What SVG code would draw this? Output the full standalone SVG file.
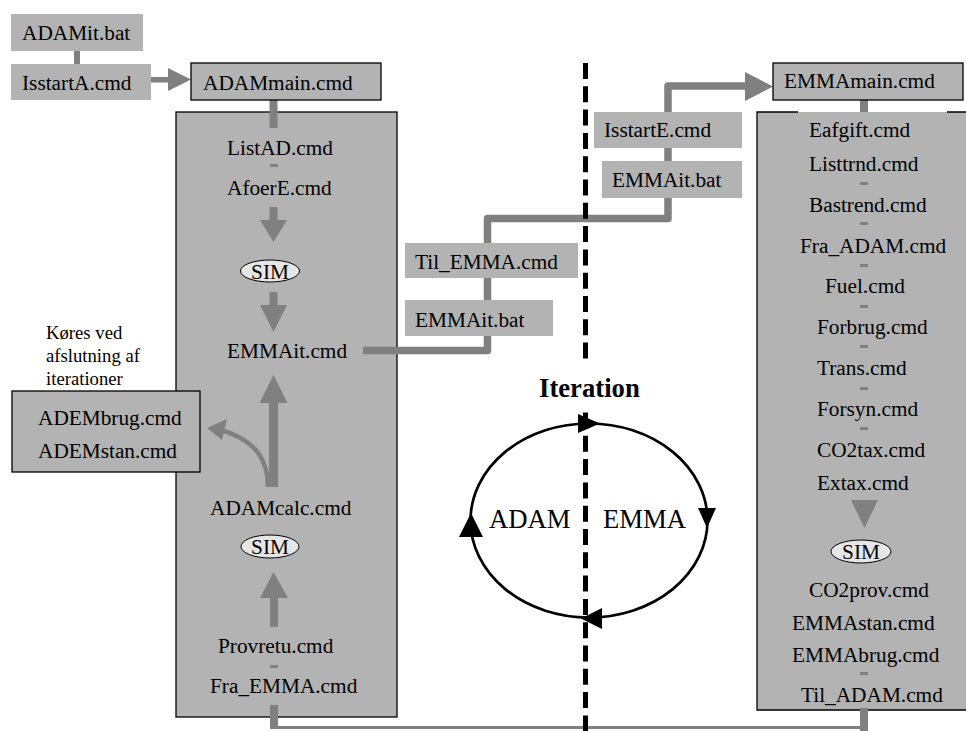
<svg xmlns="http://www.w3.org/2000/svg" width="966" height="731" viewBox="0 0 966 731">
<style>
.t{font-family:"Liberation Serif","Times New Roman","DejaVu Serif",serif;font-weight:normal;font-size:21.3px;fill:#000}
.s{font-size:18.7px}
.b{font-size:26.7px}
.bold{font-weight:bold}
.lbl{fill:#b3b3b3}
.box{fill:#b3b3b3;stroke:#000;stroke-width:1.3}
.sim{fill:#e6e6e6;stroke:#000;stroke-width:1}
.g{fill:#808080}
.pipe{fill:none;stroke:#808080;stroke-width:7.5;stroke-linejoin:round}
.blk{fill:#000}
</style>

<!-- big containers -->
<g id="adam-panel">
  <rect x="176" y="112" width="221" height="605" class="box"/>
</g>
<g id="emma-panel">
  <rect x="757" y="112" width="215" height="598" fill="#b3b3b3"/>
  <path d="M798 112 H757 V710 H972 M947 112 H972" fill="none" stroke="#000" stroke-width="1.3"/>
</g>

<!-- connectors -->
<g id="connectors">
  <rect x="74" y="51" width="6" height="13" class="g"/>
  <rect x="151" y="77" width="18" height="5.5" class="g"/>
  <polygon points="168,68 168,91 191,79.5" class="g"/>
  <rect x="269.5" y="100" width="8" height="28" class="g"/>
  <rect x="270" y="164" width="8" height="3" class="g"/>
  <rect x="269.5" y="207" width="8" height="14" class="g"/>
  <polygon points="260,220 287,220 273.5,242" class="g"/>
  <rect x="269.5" y="292" width="8" height="14" class="g"/>
  <polygon points="260,305 287,305 273.5,332" class="g"/>
  <polygon points="273.5,375 259.5,403 287.5,403" class="g"/>
  <rect x="269" y="402" width="9" height="85" class="g"/>
  <path d="M268 487 C268 462 258 441 221 430" fill="none" stroke="#808080" stroke-width="4.5"/>
  <polygon points="207,428 227,419 222,440" class="g"/>
  <polygon points="273.5,572 260,598 288,598" class="g"/>
  <rect x="270" y="597" width="8" height="30" class="g"/>
  <rect x="270" y="665" width="8" height="3" class="g"/>
  <rect x="270" y="705" width="8" height="24" class="g"/>
  <rect x="274" y="726" width="590" height="3" class="g"/>
  <rect x="860" y="708" width="8" height="23" class="g"/>
  <path d="M363 350.5 H487.5 V218.5 H668 V86 H747" class="pipe"/>
  <polygon points="745,72 745,101 773,86.5" class="g"/>
  <rect x="860" y="100" width="8" height="12" class="g"/>
  <rect x="860" y="182" width="8" height="3" class="g"/>
  <rect x="860" y="222" width="8" height="3" class="g"/>
  <rect x="860" y="264" width="8" height="3" class="g"/>
  <rect x="860" y="305" width="8" height="3" class="g"/>
  <rect x="860" y="345" width="8" height="3" class="g"/>
  <rect x="860" y="387" width="8" height="3" class="g"/>
  <rect x="860" y="427" width="8" height="3" class="g"/>
  <polygon points="851,500 878,500 864.5,528" class="g"/>
  <rect x="860" y="672" width="8" height="3" class="g"/>
</g>

<!-- ADAM side nodes -->
<g id="ADAMit-bat"><rect x="11" y="14" width="132" height="37" class="lbl"/><text x="22" y="40" class="t">ADAMit.bat</text></g>
<g id="IsstartA"><rect x="11" y="64" width="140" height="36" class="lbl"/><text x="22" y="90" class="t">IsstartA.cmd</text></g>
<g id="ADAMmain"><rect x="191" y="63" width="190" height="37" class="box"/><text x="203" y="90" class="t">ADAMmain.cmd</text></g>
<g id="ListAD"><text x="227" y="155" class="t">ListAD.cmd</text></g>
<g id="AfoerE"><text x="227" y="195" class="t">AfoerE.cmd</text></g>
<g id="SIM-A1"><ellipse cx="270" cy="271" rx="29.5" ry="11" class="sim"/><text x="270" y="278.5" class="t" text-anchor="middle">SIM</text></g>
<g id="EMMAit-cmd"><text x="227" y="358" class="t">EMMAit.cmd</text></g>
<g id="ADEM"><rect x="12" y="391" width="188" height="81" class="box"/><text x="38" y="425" class="t">ADEMbrug.cmd</text><text x="38" y="458" class="t">ADEMstan.cmd</text></g>
<g id="note"><text class="t s"><tspan x="46" y="339">Køres ved</tspan><tspan x="46" y="362">afslutning af</tspan><tspan x="46" y="385">iterationer</tspan></text></g>
<g id="ADAMcalc"><text x="210" y="515" class="t">ADAMcalc.cmd</text></g>
<g id="SIM-A2"><ellipse cx="270" cy="546.5" rx="29" ry="11.5" class="sim"/><text x="270" y="554" class="t" text-anchor="middle">SIM</text></g>
<g id="Provretu"><text x="218" y="653" class="t">Provretu.cmd</text></g>
<g id="Fra-EMMA"><text x="210" y="693" class="t">Fra_EMMA.cmd</text></g>

<!-- transfer nodes -->
<g id="Til-EMMA"><rect x="405" y="243" width="173" height="35" class="lbl"/><text x="415" y="269" class="t">Til_EMMA.cmd</text></g>
<g id="EMMAit-bat-1"><rect x="405" y="300" width="148" height="36" class="lbl"/><text x="415" y="327" class="t">EMMAit.bat</text></g>
<g id="IsstartE"><rect x="594" y="112" width="148" height="36" class="lbl"/><text x="604" y="137" class="t">IsstartE.cmd</text></g>
<g id="EMMAit-bat-2"><rect x="602" y="161" width="140" height="37" class="lbl"/><text x="612" y="187" class="t">EMMAit.bat</text></g>

<!-- EMMA side nodes -->
<g id="EMMAmain"><rect x="773" y="63" width="190" height="37" class="box"/><text x="784" y="88" class="t">EMMAmain.cmd</text></g>
<g id="Eafgift"><text x="809" y="137" class="t">Eafgift.cmd</text></g>
<g id="Listtrnd"><text x="809" y="171" class="t">Listtrnd.cmd</text></g>
<g id="Bastrend"><text x="809" y="212" class="t">Bastrend.cmd</text></g>
<g id="Fra-ADAM"><text x="800" y="253" class="t">Fra_ADAM.cmd</text></g>
<g id="Fuel"><text x="825" y="293" class="t">Fuel.cmd</text></g>
<g id="Forbrug"><text x="817" y="334" class="t">Forbrug.cmd</text></g>
<g id="Trans"><text x="817" y="375" class="t">Trans.cmd</text></g>
<g id="Forsyn"><text x="817" y="416" class="t">Forsyn.cmd</text></g>
<g id="CO2tax"><text x="817" y="457" class="t">CO2tax.cmd</text></g>
<g id="Extax"><text x="817" y="490" class="t">Extax.cmd</text></g>
<g id="SIM-E"><ellipse cx="861" cy="551.5" rx="30" ry="11.5" class="sim"/><text x="861" y="559" class="t" text-anchor="middle">SIM</text></g>
<g id="CO2prov"><text x="809" y="597" class="t">CO2prov.cmd</text></g>
<g id="EMMAstan"><text x="792" y="630" class="t">EMMAstan.cmd</text></g>
<g id="EMMAbrug"><text x="792" y="662" class="t">EMMAbrug.cmd</text></g>
<g id="Til-ADAM"><text x="801" y="702" class="t">Til_ADAM.cmd</text></g>

<!-- iteration cycle -->
<g id="iteration">
  <ellipse cx="589" cy="520.5" rx="118.5" ry="97" fill="none" stroke="#000" stroke-width="2.7"/>
  <polygon points="578,414 578,433 600,423.5" class="blk"/>
  <polygon points="698,508 716,508 707,528" class="blk"/>
  <polygon points="602,608 602,629 581,618.5" class="blk"/>
  <polygon points="459,537 483,537 471,513" class="blk"/>
  <text x="489" y="528" class="t b">ADAM</text>
  <text x="603" y="528" class="t b">EMMA</text>
</g>

<!-- divider -->
<g id="divider">
  <line x1="585.5" y1="63" x2="585.5" y2="731" stroke="#000" stroke-width="5" stroke-dasharray="16 7.3"/>
</g>
<g id="iteration-title">
  <rect x="560" y="362" width="52" height="46" fill="#fff"/>
  <text x="539" y="397" class="t b bold">Iteration</text>
</g>
</svg>
